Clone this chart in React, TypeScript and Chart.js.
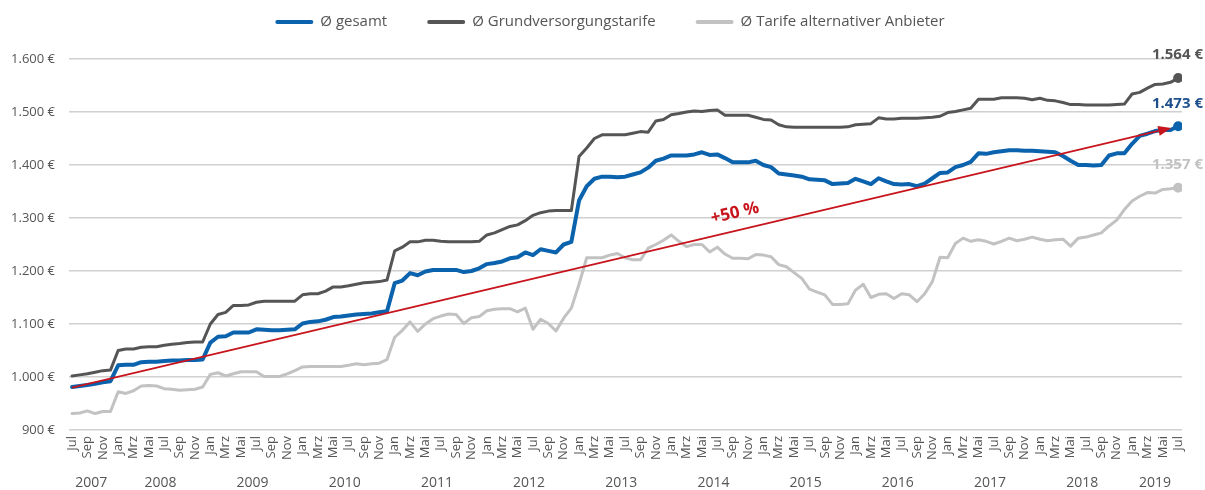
import React, { useEffect, useRef } from "react";
import { Chart, registerables } from "chart.js";

Chart.register(...registerables);

// ---------- Data ----------
const MONTH_NAMES = ["Jan", "Feb", "Mrz", "Apr", "Mai", "Jun", "Jul", "Aug", "Sep", "Okt", "Nov", "Dez"];
const START_MONTH = 6; // Jul 2007 = index 0
const YEARS = ["2007", "2008", "2009", "2010", "2011", "2012", "2013", "2014", "2015", "2016", "2017", "2018", "2019"];
const YEAR_CENTERS = [2.5, 11.5, 23.5, 35.5, 47.5, 59.5, 71.5, 83.5, 95.5, 107.5, 119.5, 131.5, 141];

const SERIES_NAMES = ["Ø gesamt", "Ø Grundversorgungstarife", "Ø Tarife alternativer Anbieter"];
const END_LABELS = ["1.473 €", "1.564 €", "1.357 €"];

const gesamt = [
  981, 983, 985, 987, 990, 992, 1022, 1023, 1023, 1028, 1029, 1029,
  1030, 1031, 1031, 1032, 1032, 1033, 1065, 1076, 1077, 1084, 1084, 1084,
  1090, 1089, 1088, 1088, 1089, 1090, 1101, 1104, 1105, 1108, 1113, 1114,
  1116, 1118, 1119, 1120, 1122, 1124, 1177, 1182, 1196, 1192, 1199, 1202,
  1202, 1202, 1202, 1198, 1200, 1205, 1213, 1215, 1218, 1224, 1226, 1235,
  1230, 1241, 1238, 1235, 1250, 1255, 1333, 1360, 1374, 1378, 1378, 1377,
  1378, 1382, 1386, 1395, 1408, 1412, 1418, 1418, 1418, 1420, 1424, 1419,
  1420, 1413, 1405, 1405, 1405, 1408, 1400, 1396, 1384, 1382, 1380, 1378,
  1373, 1372, 1371, 1364, 1365, 1366, 1374, 1369, 1364, 1375, 1369, 1364,
  1363, 1364, 1360, 1365, 1375, 1385, 1386, 1396, 1400, 1406, 1422, 1421,
  1424, 1426, 1428, 1428, 1427, 1427, 1426, 1425, 1424, 1417, 1408, 1400,
  1400, 1399, 1400, 1418, 1422, 1422, 1440, 1455, 1459, 1464, 1466, 1466,
  1473,
];

const grundversorgung = [
  1002, 1004, 1006, 1009, 1012, 1013, 1050, 1053, 1053, 1056, 1057, 1057,
  1060, 1062, 1063, 1065, 1066, 1066, 1100, 1118, 1122, 1135, 1135, 1136,
  1141, 1143, 1143, 1143, 1143, 1143, 1155, 1157, 1157, 1162, 1170, 1170,
  1172, 1175, 1178, 1179, 1180, 1183, 1238, 1245, 1255, 1255, 1258, 1258,
  1256, 1255, 1255, 1255, 1255, 1256, 1268, 1272, 1278, 1284, 1287, 1295,
  1305, 1310, 1313, 1314, 1314, 1314, 1416, 1432, 1450, 1457, 1457, 1457,
  1457, 1460, 1463, 1462, 1483, 1486, 1495, 1497, 1500, 1502, 1501, 1503,
  1504, 1494, 1494, 1494, 1494, 1490, 1486, 1485, 1476, 1472, 1471, 1471,
  1471, 1471, 1471, 1471, 1471, 1472, 1476, 1477, 1478, 1489, 1487, 1487,
  1488, 1488, 1488, 1489, 1490, 1492, 1499, 1501, 1504, 1507, 1524, 1524,
  1524, 1527, 1527, 1527, 1526, 1523, 1526, 1522, 1521, 1518, 1514, 1514,
  1513, 1513, 1513, 1513, 1514, 1515, 1534, 1537, 1545, 1552, 1553, 1556,
  1564,
];

const alternativ = [
  931, 932, 936, 931, 935, 935, 972, 969, 974, 983, 984, 983,
  978, 977, 975, 976, 977, 981, 1005, 1008, 1002, 1006, 1010, 1010,
  1010, 1001, 1001, 1001, 1006, 1012, 1019, 1020, 1020, 1020, 1020, 1020,
  1022, 1025, 1023, 1025, 1026, 1033, 1075, 1088, 1104, 1086, 1100, 1110,
  1115, 1119, 1118, 1101, 1112, 1114, 1125, 1128, 1129, 1129, 1123, 1130,
  1090, 1109, 1101, 1087, 1111, 1130, 1175, 1225, 1225, 1225, 1230, 1233,
  1225, 1221, 1221, 1243, 1250, 1258, 1268, 1256, 1246, 1250, 1250, 1236,
  1245, 1232, 1224, 1224, 1223, 1231, 1230, 1227, 1212, 1208, 1197, 1186,
  1166, 1160, 1155, 1137, 1137, 1138, 1164, 1175, 1150, 1156, 1157, 1148,
  1157, 1155, 1142, 1157, 1180, 1226, 1225, 1252, 1262, 1256, 1259, 1256,
  1251, 1256, 1262, 1257, 1260, 1264, 1260, 1257, 1259, 1260, 1247, 1262,
  1264, 1268, 1272, 1285, 1296, 1316, 1332, 1341, 1348, 1347, 1354, 1355,
  1357,
];

const Y_MIN = 900;
const Y_MAX = 1600;
const Y_STEP = 100;

const TREND_X = [0, 143.1];
const TREND_Y = [980, 1470];
const TREND_LABEL = "+50 %";
const TREND_LABEL_AT = [86.3, 1309];

// ---------- Styles ----------
const FONT = "'Open Sans', 'Noto Sans', sans-serif";
const COLORS = ["#0b62ad", "#555555", "#c2c2c2"];
const END_LABEL_COLORS = ["#1d4f8c", "#555555", "#c2c2c2"];
const WIDTHS = [4, 3, 3];
const TREND_COLOR = "#c8141c";

const fmtEuro = (v: number) =>
  v >= 1000 ? `${Math.floor(v / 1000)}.${String(v % 1000).padStart(3, "0")} €` : `${v} €`;

const monthTicks: number[] = [];
for (let i = 0; i <= 144; i += 2) monthTicks.push(i);

const extrasPlugin = {
  id: "extras",
  afterDatasetsDraw(chart: any) {
    const { ctx, scales } = chart;
    const xs = scales.x;
    const ys = scales.y;
    ctx.save();

    // Trend arrow
    const x0 = xs.getPixelForValue(TREND_X[0]);
    const y0 = ys.getPixelForValue(TREND_Y[0]);
    const x1 = xs.getPixelForValue(TREND_X[1]);
    const y1 = ys.getPixelForValue(TREND_Y[1]);
    const ang = Math.atan2(y1 - y0, x1 - x0);
    const headLen = 13;
    const headW = 5;
    const bx = x1 - headLen * Math.cos(ang);
    const by = y1 - headLen * Math.sin(ang);
    ctx.strokeStyle = TREND_COLOR;
    ctx.lineWidth = 1.6;
    ctx.beginPath();
    ctx.moveTo(x0, y0);
    ctx.lineTo(bx, by);
    ctx.stroke();
    ctx.fillStyle = TREND_COLOR;
    ctx.beginPath();
    ctx.moveTo(x1, y1);
    ctx.lineTo(bx + headW * Math.sin(ang), by - headW * Math.cos(ang));
    ctx.lineTo(bx - headW * Math.sin(ang), by + headW * Math.cos(ang));
    ctx.closePath();
    ctx.fill();

    // Trend label
    const tx = xs.getPixelForValue(TREND_LABEL_AT[0]);
    const ty = ys.getPixelForValue(TREND_LABEL_AT[1]);
    ctx.translate(tx, ty);
    ctx.rotate(ang);
    ctx.font = `bold 17px ${FONT}`;
    ctx.fillStyle = TREND_COLOR;
    ctx.textAlign = "center";
    ctx.textBaseline = "middle";
    ctx.fillText(TREND_LABEL, 0, 0);
    ctx.setTransform(1, 0, 0, 1, 0, 0);
    ctx.restore();

    ctx.save();
    // End labels
    ctx.font = `bold 15px ${FONT}`;
    ctx.textAlign = "right";
    ctx.textBaseline = "middle";
    chart.data.datasets.forEach((ds: any, i: number) => {
      if (i > 2) return;
      const last = ds.data[ds.data.length - 1];
      const py = ys.getPixelForValue(last.y);
      ctx.fillStyle = END_LABEL_COLORS[i];
      ctx.fillText(END_LABELS[i], 1203, py - 23);
    });

    // Year labels
    ctx.font = `14px ${FONT}`;
    ctx.fillStyle = "#555";
    ctx.textAlign = "center";
    YEARS.forEach((y, i) => {
      ctx.fillText(y, xs.getPixelForValue(YEAR_CENTERS[i]), 483);
    });

    // Legend
    ctx.font = `15px ${FONT}`;
    const lineLen = 38;
    const gap = 7;
    const spacing = 40;
    const widths = SERIES_NAMES.map((n) => lineLen + gap + ctx.measureText(n).width);
    const total = widths.reduce((a, b) => a + b, 0) + spacing * (SERIES_NAMES.length - 1);
    let lx = 610 - total / 2;
    const ly = 22;
    ctx.textAlign = "left";
    ctx.lineCap = "round";
    SERIES_NAMES.forEach((n, i) => {
      ctx.strokeStyle = COLORS[i];
      ctx.lineWidth = 4;
      ctx.beginPath();
      ctx.moveTo(lx + 2, ly);
      ctx.lineTo(lx + lineLen - 2, ly);
      ctx.stroke();
      ctx.fillStyle = "#555";
      ctx.fillText(n, lx + lineLen + gap, ly);
      lx += widths[i] + spacing;
    });
    ctx.restore();
  },
};

export default function App() {
  const ref = useRef<HTMLCanvasElement | null>(null);
  useEffect(() => {
    if (!ref.current) return;
    const series = [gesamt, grundversorgung, alternativ];
    const chart = new Chart(ref.current, {
      type: "line",
      data: {
        datasets: series.map((arr, si) => ({
          label: SERIES_NAMES[si],
          data: arr.map((v, i) => ({ x: i, y: v })),
          borderColor: COLORS[si],
          backgroundColor: COLORS[si],
          borderWidth: WIDTHS[si],
          borderJoinStyle: "round" as const,
          borderCapStyle: "round" as const,
          pointRadius: arr.map((_, i) => (i === arr.length - 1 ? 5 : 0)),
          pointHoverRadius: 0,
          pointBorderWidth: 0,
          tension: 0,
          fill: false,
        })),
      },
      options: {
        animation: false,
        responsive: true,
        maintainAspectRatio: false,
        layout: { padding: { top: 59, right: 23, left: 0, bottom: 0 } },
        plugins: { legend: { display: false }, tooltip: { enabled: false } },
        scales: {
          x: {
            type: "linear",
            min: -0.4,
            max: 144.5,
            grid: { display: false, drawTicks: false },
            border: { display: false },
            afterBuildTicks: (scale: any) => {
              scale.ticks = monthTicks.map((v) => ({ value: v }));
            },
            afterFit: (scale: any) => {
              scale.height = 60;
            },
            ticks: {
              autoSkip: false,
              maxRotation: 90,
              minRotation: 90,
              padding: 6,
              color: "#555",
              font: { family: FONT, size: 13 },
              callback: (v: any) => MONTH_NAMES[(START_MONTH + Number(v)) % 12],
            },
          },
          y: {
            min: Y_MIN,
            max: Y_MAX,
            grid: { color: "#d0d0d0", lineWidth: 1.5, drawTicks: false },
            border: { display: false },
            afterFit: (scale: any) => {
              scale.width = 69;
            },
            ticks: {
              stepSize: Y_STEP,
              padding: 14,
              color: "#555",
              font: { family: FONT, size: 13 },
              callback: (v: any) => fmtEuro(Number(v)),
            },
          },
        },
      },
      plugins: [extrasPlugin],
    });
    return () => chart.destroy();
  }, []);

  return (
    <div style={{ position: "fixed", left: 0, top: 0, width: 1205, height: 490, background: "#fff" }}>
      <canvas ref={ref} />
    </div>
  );
}
